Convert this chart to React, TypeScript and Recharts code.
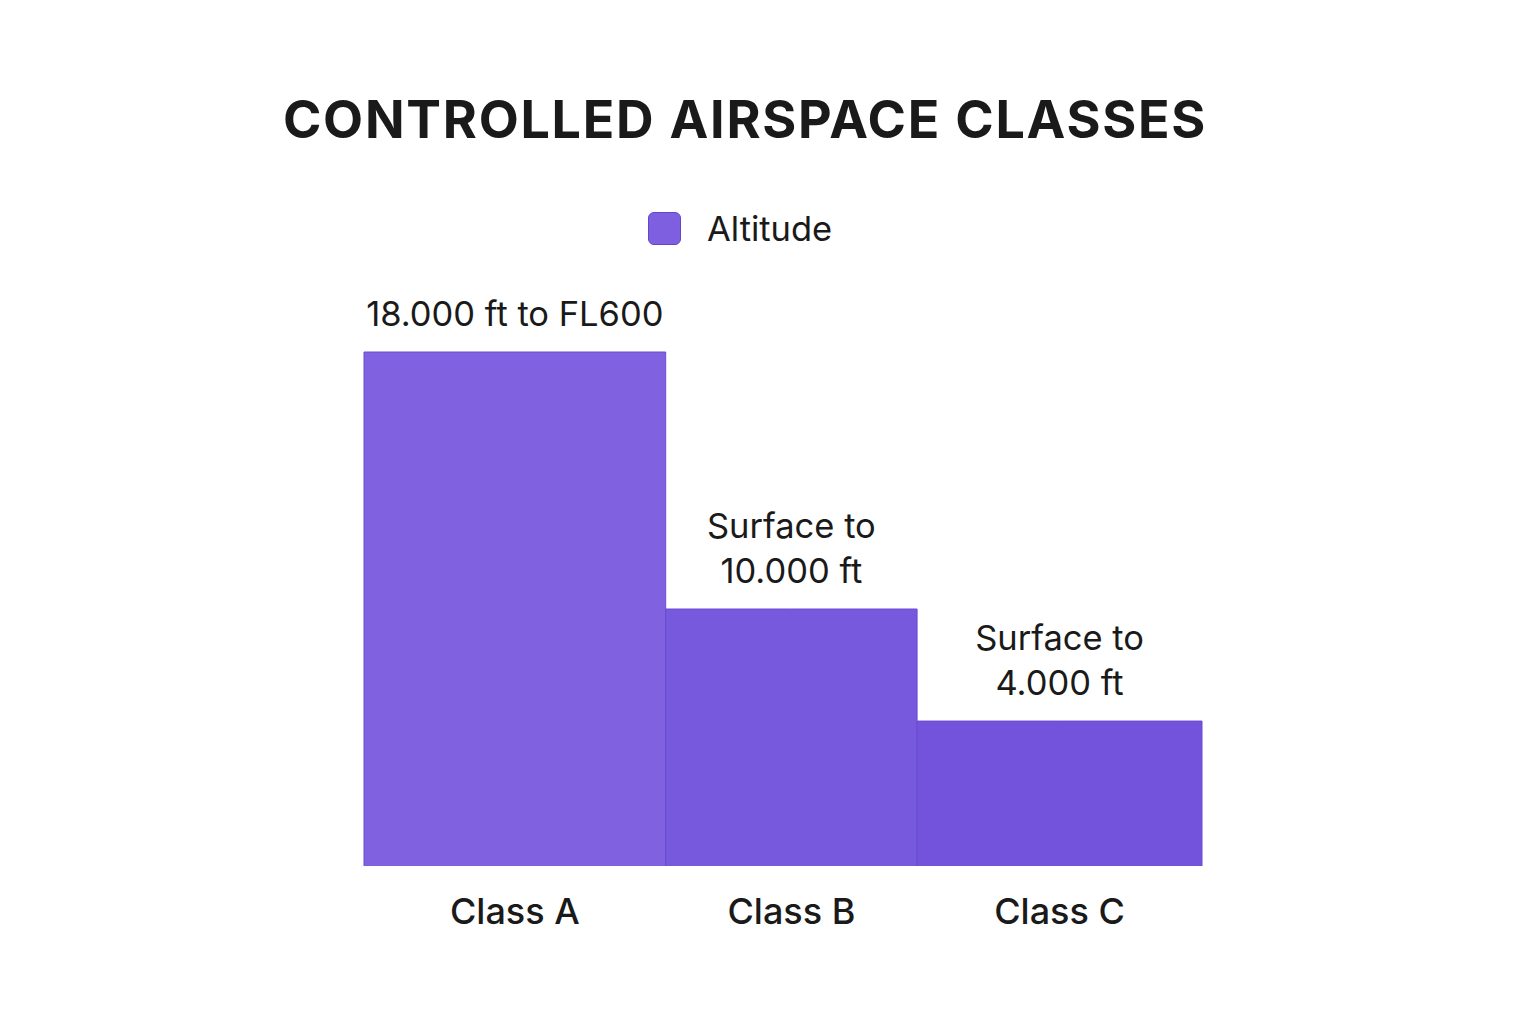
import React from 'react';
import { ComposedChart, Area, XAxis, YAxis, LabelList } from 'recharts';

// airspace classes
const classes = ['Class A', 'Class B', 'Class C'];
// relative ceiling of each block (Class A = 100)
const altitude = [100, 50, 28.2];
// relative width share of each block
const widthShare = [36, 30, 34];
const rangeLabels = [
  ['18.000 ft to FL600'],
  ['Surface to', '10.000 ft'],
  ['Surface to', '4.000 ft'],
];
const fills = ['#8062E0', '#7759DE', '#7453DC'];

const W = 1520;
const H = 1000;
const FONT = 'Inter, "Noto Sans", sans-serif';

// each block is an outline: left edge, top (with centre point for the label), right edge
const starts = widthShare.map((_, i) => widthShare.slice(0, i).reduce((a, b) => a + b, 0));
const mids = starts.map((s, i) => s + widthShare[i] / 2);
const blocks = classes.map((name, i) => {
  const s = starts[i];
  const e = s + widthShare[i];
  return [
    { x: s, alt: 0 },
    { x: s, alt: altitude[i] },
    { x: mids[i], alt: altitude[i], label: i },
    { x: e, alt: altitude[i] },
    { x: e, alt: 0 },
  ];
});

const RangeLabel = (props: any) => {
  const { x, y, value } = props;
  if (value === undefined || value === null) return null;
  const lines = rangeLabels[value];
  return (
    <text x={x} textAnchor="middle" fontFamily={FONT} fontSize={34.5} fill="#1a1a1a">
      {lines.map((l, i) => (
        <tspan key={i} x={x} y={y - 38 - (lines.length - 1 - i) * 45} dy="0.35em">
          {l}
        </tspan>
      ))}
    </text>
  );
};

export default function App() {
  return (
    <div style={{ position: 'relative', width: W, height: H, background: '#fff', fontFamily: FONT }}>
      <div
        style={{
          position: 'absolute',
          left: 137,
          width: 1200,
          top: 86,
          textAlign: 'center',
          fontSize: 52,
          lineHeight: '52px',
          fontWeight: 700,
          letterSpacing: 1.75,
          color: '#1a1a1a',
        }}
      >
        CONTROLLED AIRSPACE CLASSES
      </div>
      <div style={{ position: 'absolute', left: 640, top: 204, display: 'flex', alignItems: 'center' }}>
        <div
          style={{
            width: 31,
            height: 31,
            borderRadius: 6,
            background: '#7E5FE0',
            border: '1px solid #6645cc',
          }}
        />
        <span style={{ marginLeft: 26, fontSize: 34.5, lineHeight: '32px', color: '#1a1a1a' }}>Altitude</span>
      </div>
      <ComposedChart
        width={W}
        height={H}
        margin={{ top: 344, right: 326, bottom: 82, left: 356 }}
        style={{ position: 'absolute', left: 0, top: 0 }}
      >
        <XAxis
          type="number"
          dataKey="x"
          domain={[0, 100]}
          ticks={mids}
          tickFormatter={(v: number) => classes[mids.indexOf(v)] ?? ''}
          axisLine={false}
          tickLine={false}
          tickMargin={26}
          height={60}
          interval={0}
          tick={{ fill: '#1a1a1a', fontSize: 36, fontWeight: 500, fontFamily: FONT }}
        />
        <YAxis type="number" domain={[0, 100]} hide />
        {blocks.map((d, i) => (
          <Area
            key={classes[i]}
            data={d}
            dataKey="alt"
            type="linear"
            fill={fills[i]}
            fillOpacity={1}
            stroke="#6a4bd2"
            strokeWidth={1}
            dot={false}
            activeDot={false}
            isAnimationActive={false}
          >
            <LabelList dataKey="label" content={<RangeLabel />} />
          </Area>
        ))}
      </ComposedChart>
    </div>
  );
}
